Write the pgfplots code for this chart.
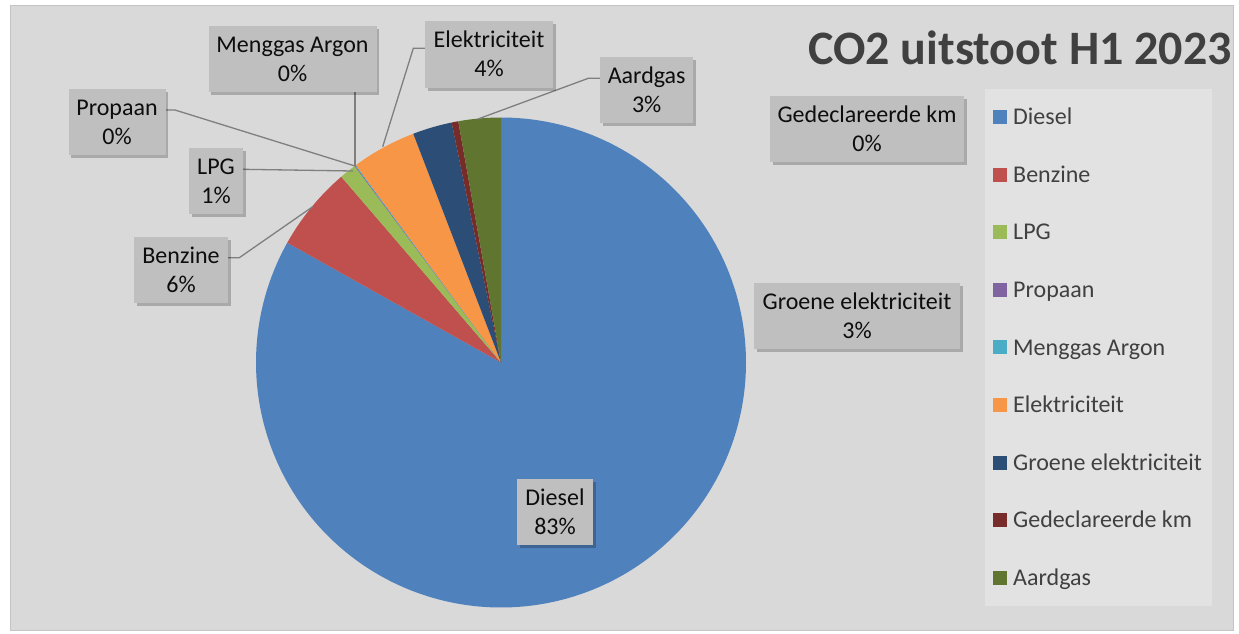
\documentclass[border=0pt]{standalone}
\usepackage{fontspec}
\setmainfont{Carlito}
\usepackage{pgfplots}
\usepackage{pgfplotstable}
\pgfplotsset{compat=1.18}
\usetikzlibrary{shadows}

\definecolor{cDiesel}{HTML}{4F81BD}
\definecolor{cBenzine}{HTML}{C0504D}
\definecolor{cLPG}{HTML}{9BBB59}
\definecolor{cPropaan}{HTML}{8064A2}
\definecolor{cMenggas}{HTML}{4BACC6}
\definecolor{cElek}{HTML}{F79646}
\definecolor{cGroene}{HTML}{2C4D75}
\definecolor{cGedecl}{HTML}{772C2A}
\definecolor{cAardgas}{HTML}{5F7530}
\definecolor{bgcol}{HTML}{D9D9D9}
\definecolor{bordercol}{HTML}{C4C4C4}
\definecolor{legendbg}{HTML}{E2E2E2}
\definecolor{legtext}{HTML}{404040}
\definecolor{titlecol}{HTML}{404040}
\definecolor{lblgray}{HTML}{BFBFBF}
\definecolor{lbltext}{HTML}{0D0D0D}
\definecolor{leadcol}{HTML}{7F7F7F}

\pgfplotstableread{
name v
Diesel 83.13
Benzine 5.57
LPG 1.11
Propaan 0.05
Menggas 0.05
Elektriciteit 4.26
Groene 2.60
Gedeclareerde 0.44
Aardgas 2.79
}\piedata

\def\cumang{90}
\pgfplotsforeachungrouped \i in {0,...,8}{%
  \pgfplotstablegetelem{\i}{v}\of\piedata
  \pgfmathsetmacro\nextang{\cumang-3.6*\pgfplotsretval}%
  \edef\L{\ifcase\i A\or B\or C\or D\or E\or F\or G\or H\or I\fi}%
  \expandafter\xdef\csname ps\L\endcsname{\cumang}%
  \expandafter\xdef\csname pe\L\endcsname{\nextang}%
  \xdef\cumang{\nextang}%
}

\newcommand\legtxt[1]{\makebox[191pt][l]{\rule[-4pt]{0pt}{21pt}#1}}

\tikzset{lbl/.style={fill=lblgray, inner sep=0pt, minimum height=66pt, align=center,
  font=\fontsize{24}{29}\selectfont, text=lbltext,
  drop shadow={shadow xshift=2.5pt, shadow yshift=-3pt, opacity=0.22, fill=black}}}

\begin{document}
\begin{tikzpicture}
\begin{axis}[
  hide axis, scale only axis, width=1239pt, height=634pt,
  xmin=0, xmax=1239, ymin=0, ymax=634, y dir=reverse, clip=false,
  legend image code/.code={\fill[#1] (0pt,-7pt) rectangle (14pt,7pt); \path (20pt,0pt);},
  legend cell align=left,
  legend style={at={(axis cs:985,89)}, anchor=north west, fill=legendbg, draw=none,
    inner xsep=8pt, inner ysep=18.5pt, row sep=39.1pt, nodes={inner sep=0pt},
    font=\fontsize{24}{28}\selectfont, text=legtext},
]
% page and chart background
\addplot[fill=white, draw=none, forget plot] coordinates {(0,0) (1239,0) (1239,634) (0,634)} -- cycle;
\addplot[fill=bgcol, draw=bordercol, line width=1pt, forget plot] coordinates {(10,6) (1233,6) (1233,630) (10,630)} -- cycle;

% pie slices
\addplot[fill=cDiesel, draw=none, domain=\peA:\psA, samples=300, variable=\t] ({501+245*cos(\t)},{362.5-245*sin(\t)}) -- (axis cs:501,362.5) -- cycle;
\addlegendentry{\legtxt{Diesel}}
\addplot[fill=cBenzine, draw=none, domain=\peB:\psB, samples=60, variable=\t] ({501+245*cos(\t)},{362.5-245*sin(\t)}) -- (axis cs:501,362.5) -- cycle;
\addlegendentry{\legtxt{Benzine}}
\addplot[fill=cLPG, draw=none, domain=\peC:\psC, samples=20, variable=\t] ({501+245*cos(\t)},{362.5-245*sin(\t)}) -- (axis cs:501,362.5) -- cycle;
\addlegendentry{\legtxt{LPG}}
\addplot[fill=cPropaan, draw=none, domain=\peD:\psD, samples=5, variable=\t] ({501+245*cos(\t)},{362.5-245*sin(\t)}) -- (axis cs:501,362.5) -- cycle;
\addlegendentry{\legtxt{Propaan}}
\addplot[fill=cMenggas, draw=none, domain=\peE:\psE, samples=5, variable=\t] ({501+245*cos(\t)},{362.5-245*sin(\t)}) -- (axis cs:501,362.5) -- cycle;
\addlegendentry{\legtxt{Menggas Argon}}
\addplot[fill=cElek, draw=none, domain=\peF:\psF, samples=40, variable=\t] ({501+245*cos(\t)},{362.5-245*sin(\t)}) -- (axis cs:501,362.5) -- cycle;
\addlegendentry{\legtxt{Elektriciteit}}
\addplot[fill=cGroene, draw=none, domain=\peG:\psG, samples=30, variable=\t] ({501+245*cos(\t)},{362.5-245*sin(\t)}) -- (axis cs:501,362.5) -- cycle;
\addlegendentry{\legtxt{Groene elektriciteit}}
\addplot[fill=cGedecl, draw=none, domain=\peH:\psH, samples=8, variable=\t] ({501+245*cos(\t)},{362.5-245*sin(\t)}) -- (axis cs:501,362.5) -- cycle;
\addlegendentry{\legtxt{Gedeclareerde km}}
\addplot[fill=cAardgas, draw=none, domain=\peI:\psI, samples=30, variable=\t] ({501+245*cos(\t)},{362.5-245*sin(\t)}) -- (axis cs:501,362.5) -- cycle;
\addlegendentry{\legtxt{Aardgas}}

% leader lines
\addplot[leadcol, line width=1.3pt, forget plot] coordinates {(165.7,110) (175,110) (355,166)};
\addplot[leadcol, line width=1.3pt, forget plot] coordinates {(355,92.3) (355,166)};
\addplot[leadcol, line width=1.3pt, forget plot] coordinates {(242.7,169.3) (353,171)};
\addplot[leadcol, line width=1.3pt, forget plot] coordinates {(227.7,257.7) (239.3,257.7) (312.7,206.7)};
\addplot[leadcol, line width=1.3pt, forget plot] coordinates {(425,48.3) (413.3,48.3) (382.7,146.7)};
\addplot[leadcol, line width=1.3pt, forget plot] coordinates {(600,78.3) (588.3,78.3) (478,119)};

% data labels
\node[lbl, minimum width=76pt] at (axis cs:555,511.5) {\rule{0pt}{17pt}Diesel\\83\%\rule[-1pt]{0pt}{1pt}};
\node[lbl, minimum width=94pt] at (axis cs:181,270.3) {\rule{0pt}{17pt}Benzine\\6\%\rule[-1pt]{0pt}{1pt}};
\node[lbl, minimum width=54pt] at (axis cs:216,181.2) {\rule{0pt}{17pt}LPG\\1\%\rule[-1pt]{0pt}{1pt}};
\node[lbl, minimum width=97pt] at (axis cs:117,122.3) {\rule{0pt}{17pt}Propaan\\0\%\rule[-1pt]{0pt}{1pt}};
\node[lbl, minimum width=168pt] at (axis cs:292.5,59.2) {\rule{0pt}{17pt}Menggas Argon\\0\%\rule[-1pt]{0pt}{1pt}};
\node[lbl, minimum width=128pt] at (axis cs:489,54.5) {\rule{0pt}{17pt}Elektriciteit\\4\%\rule[-1pt]{0pt}{1pt}};
\node[lbl, minimum width=93pt] at (axis cs:646.7,90.3) {\rule{0pt}{17pt}Aardgas\\3\%\rule[-1pt]{0pt}{1pt}};
\node[lbl, minimum width=194pt] at (axis cs:867,129.3) {\rule{0pt}{17pt}Gedeclareerde km\\0\%\rule[-1pt]{0pt}{1pt}};
\node[lbl, minimum width=206pt] at (axis cs:857,316.3) {\rule{0pt}{17pt}Groene elektriciteit\\3\%\rule[-1pt]{0pt}{1pt}};

% title
\node[anchor=base, font=\fontsize{48}{58}\selectfont\bfseries, text=titlecol] at (axis cs:1020,64) {CO2 uitstoot H1 2023};
\end{axis}
\end{tikzpicture}
\end{document}
